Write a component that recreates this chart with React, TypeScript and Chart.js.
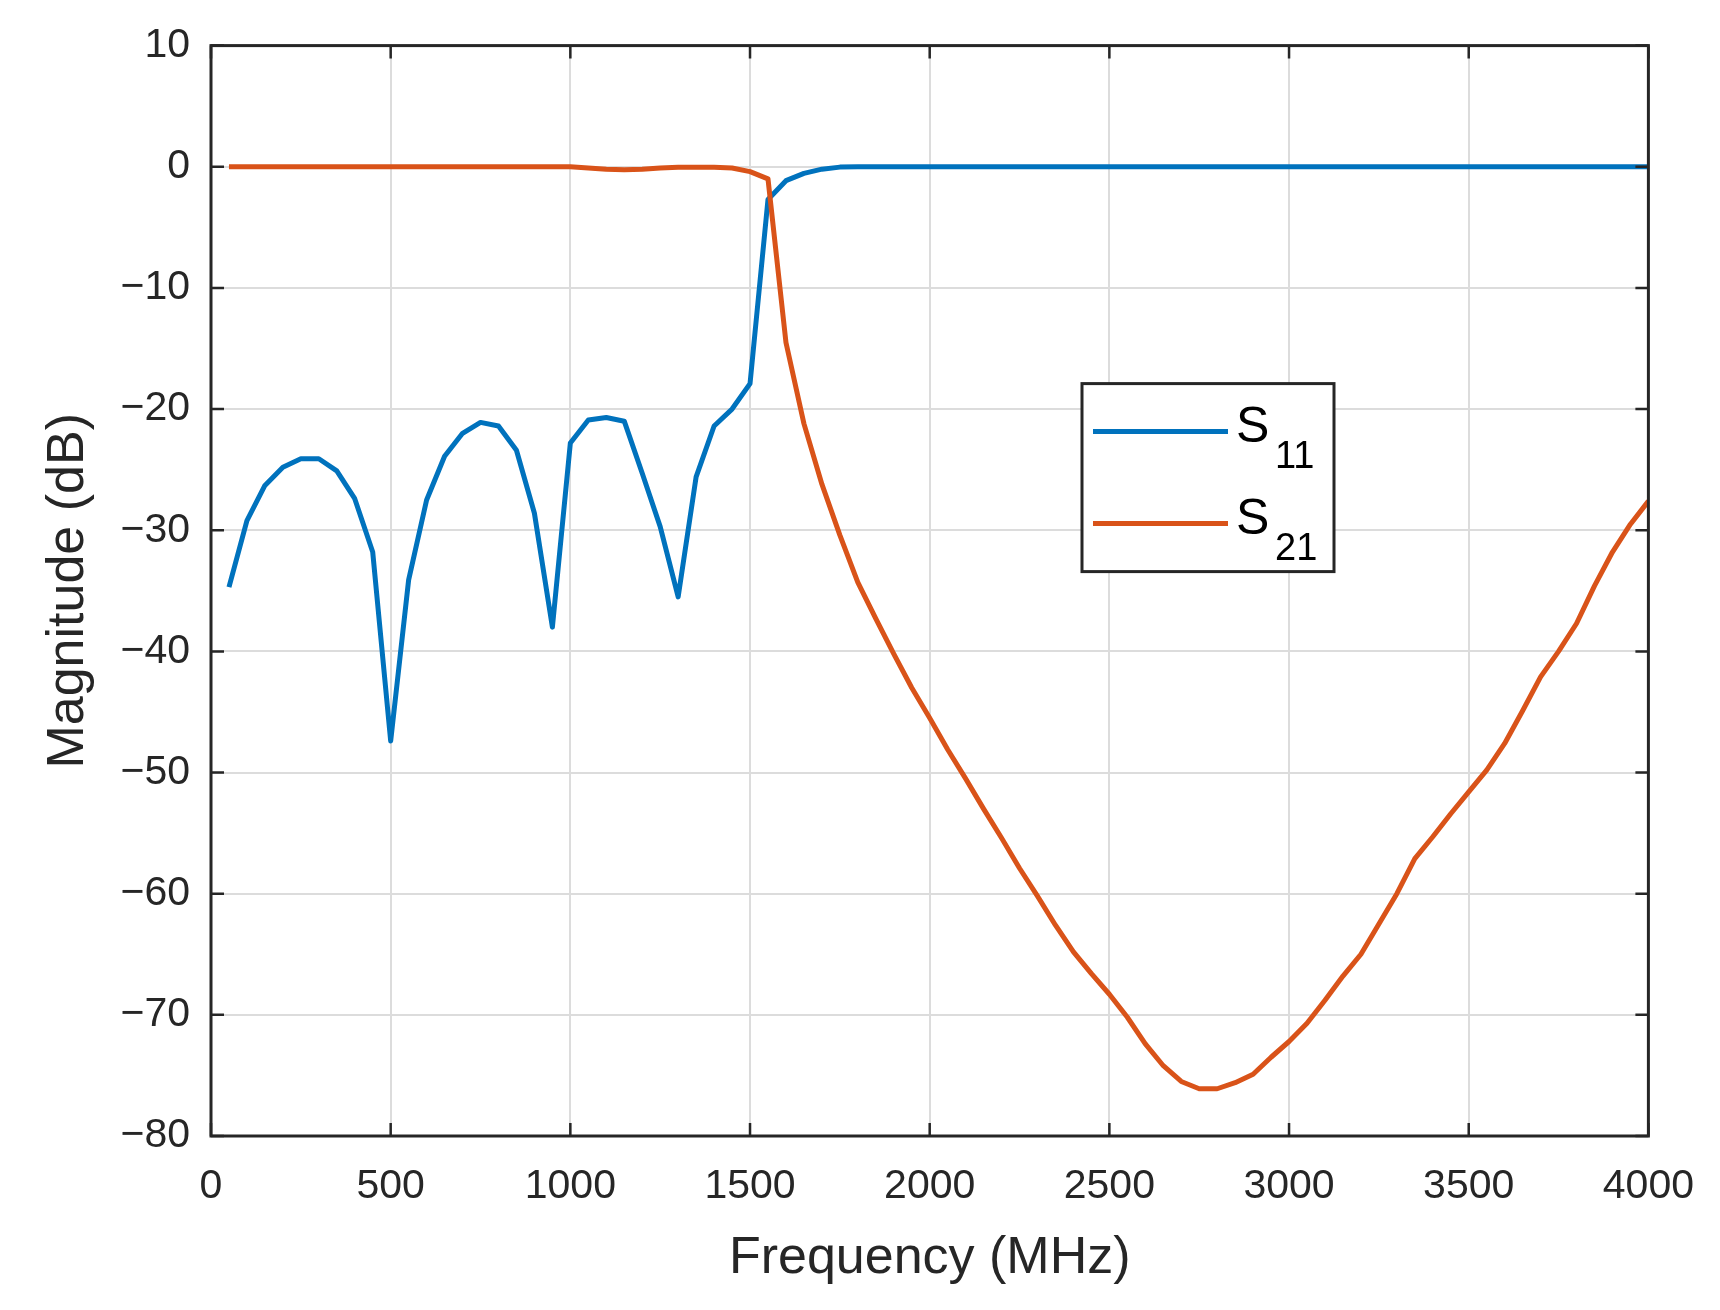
import { Chart, registerables, Plugin } from 'chart.js';
import React, { useEffect, useRef } from 'react';

Chart.register(...registerables);

// Frequency samples (MHz)
const freqMHz = [
  50, 100, 150, 200, 250, 300, 350, 400, 450, 500,
  550, 600, 650, 700, 750, 800, 850, 900, 950, 1000,
  1050, 1100, 1150, 1200, 1250, 1300, 1350, 1400, 1450, 1500,
  1550, 1600, 1650, 1700, 1750, 1800, 1850, 1900, 1950, 2000,
  2050, 2100, 2150, 2200, 2250, 2300, 2350, 2400, 2450, 2500,
  2550, 2600, 2650, 2700, 2750, 2800, 2850, 2900, 2950, 3000,
  3050, 3100, 3150, 3200, 3250, 3300, 3350, 3400, 3450, 3500,
  3550, 3600, 3650, 3700, 3750, 3800, 3850, 3900, 3950, 4000,
];

// S11 (dB)
const s11Db = [
  -34.7, -29.2, -26.3, -24.8, -24.1, -24.1, -25.1, -27.4, -31.8, -47.4,
  -34.1, -27.5, -23.9, -22.0, -21.1, -21.4, -23.4, -28.6, -38.0, -22.8,
  -20.9, -20.7, -21.0, -25.3, -29.7, -35.5, -25.6, -21.4, -20.0, -17.9,
  -2.7, -1.15, -0.55, -0.2, -0.03, 0, 0, 0, 0, 0,
  0, 0, 0, 0, 0, 0, 0, 0, 0, 0,
  0, 0, 0, 0, 0, 0, 0, 0, 0, 0,
  0, 0, 0, 0, 0, 0, 0, 0, 0, 0,
  0, 0, 0, 0, 0, 0, 0, 0, 0, 0,
];

// S21 (dB)
const s21Db = [
  0, 0, 0, 0, 0, 0, 0, 0, 0, 0,
  0, 0, 0, 0, 0, 0, 0, 0, 0, 0,
  -0.1, -0.2, -0.25, -0.2, -0.1, -0.05, -0.05, -0.05, -0.1, -0.4,
  -1.0, -14.5, -21.2, -26.2, -30.4, -34.3, -37.3, -40.2, -43.0, -45.5,
  -48.1, -50.5, -53.0, -55.4, -57.9, -60.2, -62.6, -64.8, -66.6, -68.3,
  -70.2, -72.4, -74.2, -75.5, -76.1, -76.1, -75.6, -74.9, -73.5, -72.2,
  -70.7, -68.8, -66.8, -65.0, -62.5, -60.0, -57.1, -55.3, -53.4, -51.6,
  -49.8, -47.6, -44.9, -42.1, -40.0, -37.7, -34.6, -31.8, -29.5, -27.6,
];

const seriesNames = ['S11', 'S21'];
const seriesColors = ['#0072BD', '#D95319'];

const AXIS_COLOR = '#262626';
const FONT = '"Liberation Sans", Arial, Helvetica, sans-serif';

const minusLabel = (v: number | string) => {
  const n = Number(v);
  return n < 0 ? '\u2212' + Math.abs(n) : String(n);
};

// box + inward ticks like matlab, and the legend with subscripts
const frameAndLegend: Plugin<'line'> = {
  id: 'frameAndLegend',
  afterDatasetsDraw(chart) {
    const { ctx, chartArea: a, scales } = chart;
    const xs = scales.x;
    const ys = scales.y;
    const tickLen = 13;

    ctx.save();
    ctx.strokeStyle = AXIS_COLOR;
    ctx.lineWidth = 2.5;
    ctx.beginPath();
    xs.ticks.forEach((t) => {
      const px = xs.getPixelForValue(t.value);
      ctx.moveTo(px, a.bottom);
      ctx.lineTo(px, a.bottom - tickLen);
      ctx.moveTo(px, a.top);
      ctx.lineTo(px, a.top + tickLen);
    });
    ys.ticks.forEach((t) => {
      const py = ys.getPixelForValue(t.value);
      ctx.moveTo(a.left, py);
      ctx.lineTo(a.left + tickLen, py);
      ctx.moveTo(a.right, py);
      ctx.lineTo(a.right - tickLen, py);
    });
    ctx.stroke();
    ctx.lineWidth = 3;
    ctx.strokeRect(a.left, a.top, a.right - a.left, a.bottom - a.top);

    // legend
    const bx = a.left + 871;
    const by = a.top + 338;
    const bw = 252;
    const bh = 188;
    ctx.fillStyle = '#ffffff';
    ctx.fillRect(bx, by, bw, bh);
    ctx.lineWidth = 3;
    ctx.strokeRect(bx, by, bw, bh);

    const rows = [48, 140];
    chart.data.datasets.forEach((ds, i) => {
      const ly = by + rows[i];
      ctx.strokeStyle = ds.borderColor as string;
      ctx.lineWidth = 5;
      ctx.beginPath();
      ctx.moveTo(bx + 11, ly);
      ctx.lineTo(bx + 146, ly);
      ctx.stroke();

      const label = String(ds.label);
      ctx.fillStyle = '#000000';
      ctx.textAlign = 'left';
      ctx.textBaseline = 'alphabetic';
      ctx.font = `50px ${FONT}`;
      ctx.fillText(label[0], bx + 154, ly + 10);
      ctx.font = `38px ${FONT}`;
      ctx.fillText(label.slice(1), bx + 193, ly + 36);
    });
    ctx.restore();
  },
};

const App: React.FC = () => {
  const chartRef = useRef<HTMLCanvasElement>(null);
  const chartInstanceRef = useRef<Chart<'line'> | null>(null);

  useEffect(() => {
    document.body.style.margin = '0';
    if (!chartRef.current) return;
    const ctx = chartRef.current.getContext('2d');
    if (!ctx) return;

    if (chartInstanceRef.current) {
      chartInstanceRef.current.destroy();
    }

    const series = [s11Db, s21Db];

    chartInstanceRef.current = new Chart(ctx, {
      type: 'line',
      data: {
        datasets: series.map((vals, i) => ({
          label: seriesNames[i],
          data: freqMHz.map((f, j) => ({ x: f, y: vals[j] })),
          borderColor: seriesColors[i],
          backgroundColor: seriesColors[i],
          borderWidth: 5,
          pointRadius: 0,
          tension: 0,
          fill: false,
          borderJoinStyle: 'round',
          order: 2 - i,
        })),
      },
      options: {
        responsive: false,
        animation: false,
        devicePixelRatio: 1,
        layout: { padding: { left: 0, top: 45, right: 63, bottom: 0 } },
        plugins: {
          legend: { display: false },
          tooltip: { enabled: false },
        },
        scales: {
          x: {
            type: 'linear',
            min: 0,
            max: 4000,
            ticks: {
              stepSize: 500,
              color: AXIS_COLOR,
              font: { family: FONT, size: 41 },
              padding: 26,
              maxRotation: 0,
              callback: (v) => minusLabel(v),
            },
            grid: { color: '#dcdcdc', lineWidth: 2, drawTicks: false },
            border: { display: false },
            title: {
              display: true,
              text: 'Frequency (MHz)',
              color: AXIS_COLOR,
              font: { family: FONT, size: 52 },
              padding: { top: 0, bottom: 20 },
            },
            afterFit: (scale) => {
              scale.height = 174;
            },
          },
          y: {
            type: 'linear',
            min: -80,
            max: 10,
            ticks: {
              stepSize: 10,
              color: AXIS_COLOR,
              font: { family: FONT, size: 41 },
              padding: 21,
              callback: (v) => minusLabel(v),
            },
            grid: { color: '#dcdcdc', lineWidth: 2, drawTicks: false },
            border: { display: false },
            title: {
              display: true,
              text: 'Magnitude (dB)',
              color: AXIS_COLOR,
              font: { family: FONT, size: 52 },
              padding: { top: 37, bottom: 0 },
            },
            afterFit: (scale) => {
              scale.width = 211;
            },
          },
        },
      },
      plugins: [frameAndLegend],
    });

    return () => {
      if (chartInstanceRef.current) {
        chartInstanceRef.current.destroy();
        chartInstanceRef.current = null;
      }
    };
  }, []);

  return (
    <div style={{ width: 1720, height: 1310, background: '#ffffff' }}>
      <canvas ref={chartRef} width={1720} height={1310}></canvas>
    </div>
  );
};

export default App;
